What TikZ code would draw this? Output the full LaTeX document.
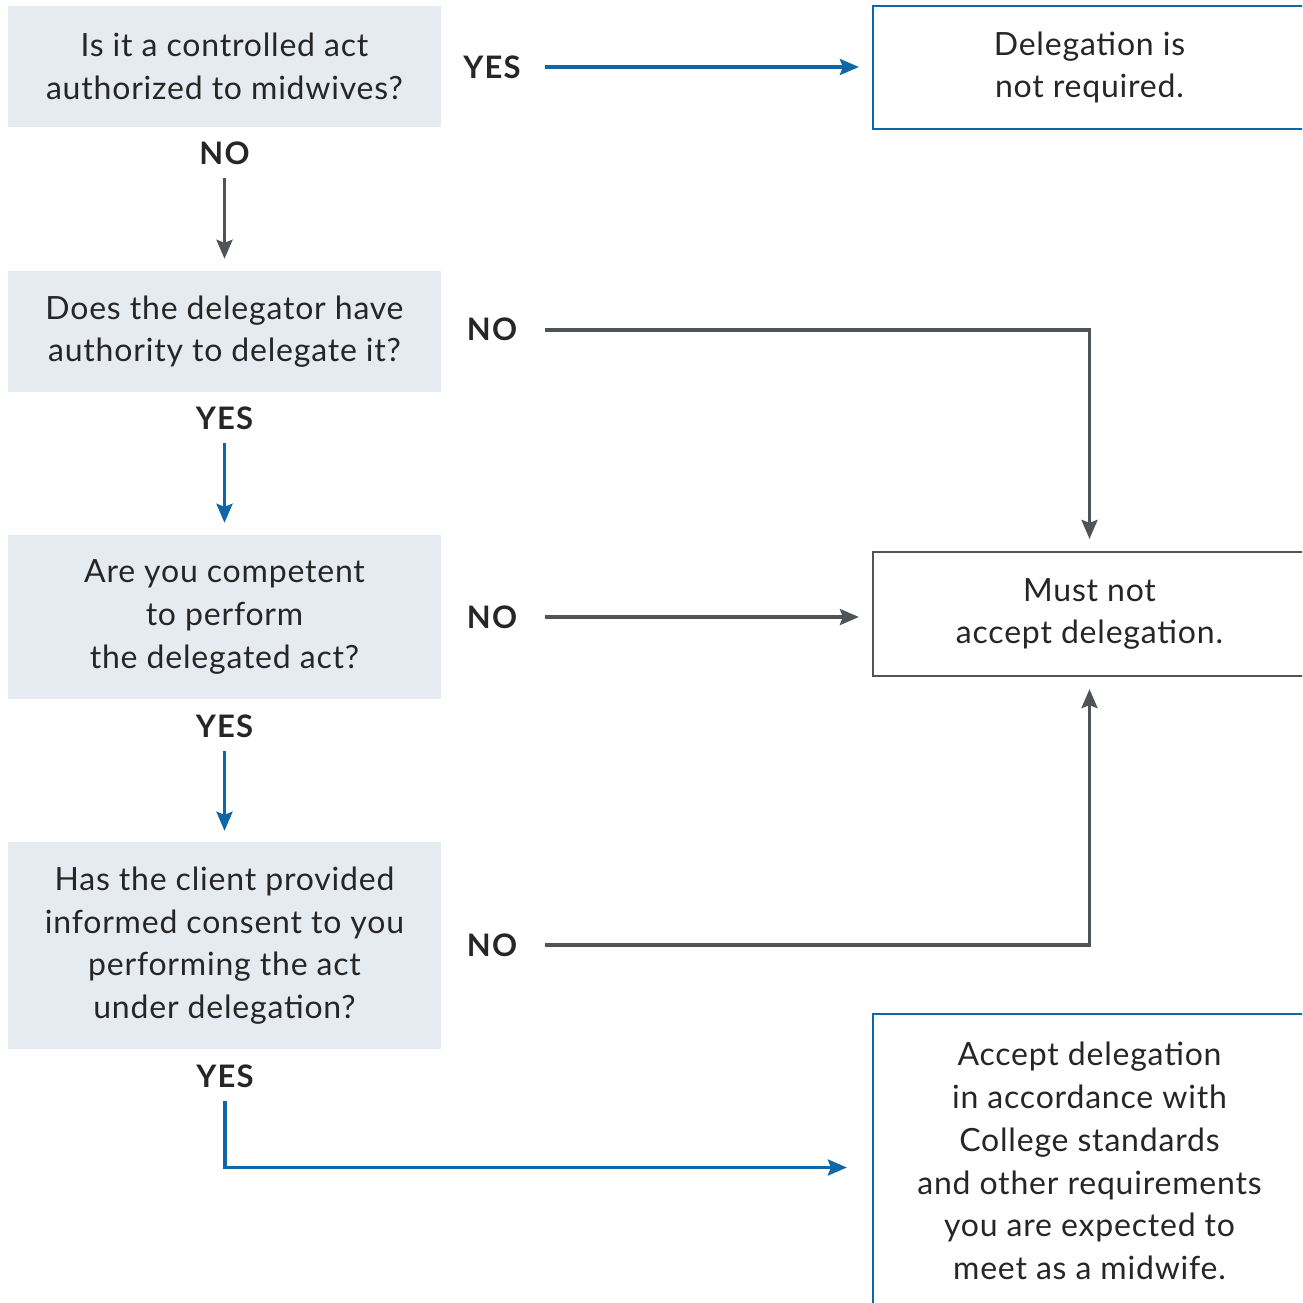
\documentclass[tikz,border=0pt]{standalone}
\usepackage{fontspec}
\setmainfont{Lato}[LetterSpace=2.5]
\newfontfamily\lblfont{Lato}[LetterSpace=4]
\usetikzlibrary{arrows.meta}
\definecolor{qfill}{HTML}{E6EBF2}
\definecolor{qblue}{HTML}{0E67A6}
\definecolor{qgray}{HTML}{4F5459}
\definecolor{qtext}{HTML}{262626}
\begin{document}
\begin{tikzpicture}[x=1pt,y=-1pt,
  qbox/.style={fill=qfill, minimum width=433pt, inner sep=0pt, align=center, text=qtext,
    font=\fontsize{32}{42.7}\selectfont},
  abox/.style={draw=#1, line width=2.2pt, fill=white, minimum width=433pt, inner sep=0pt, align=center, text=qtext,
    font=\fontsize{32}{42.7}\selectfont},
  lblh/.style={minimum width=106pt, inner sep=0pt, text=qtext, font=\lblfont\bfseries\fontsize{31}{32}\selectfont},
  lblv/.style={minimum height=50pt, inner sep=0pt, text=qtext, font=\lblfont\bfseries\fontsize{31}{32}\selectfont},
  arr/.style={-{Stealth[length=19pt,width=16pt,inset=3pt]}, line width=3.2pt},
]
\useasboundingbox (0,0) rectangle (1302,1303);
\clip (0,0) rectangle (1302,1303);

% question boxes
\node[qbox, minimum height=121pt] (q1) at (224.5,66.5) {Is it a controlled act\\authorized to midwives?};
\node[qbox, minimum height=121pt] (q2) at (224.5,331.5) {Does the delegator have\\authority to delegate it?};
\node[qbox, minimum height=164pt] (q3) at (224.5,617) {Are you competent\\to perform\\the delegated act?};
\node[qbox, minimum height=207pt] (q4) at (224.5,945.5) {Has the client provided\\informed consent to you\\performing the act\\under delegation?};

% answer boxes
\node[abox=qblue, minimum height=123pt] (r1) at (1089.5,67.5) {Delegation is\\not required.};
\node[abox=qgray, minimum height=124pt] (r2) at (1089.5,614) {Must not\\accept delegation.};
\node[abox=qblue, minimum height=294pt] (r3) at (1089.5,1161) {Accept delegation\\in accordance with\\College standards\\and other requirements\\you are expected to\\meet as a midwife.};

% labels
\node[lblh] (y1) at (492,67) {YES};
\node[lblv] (n1) at (224.5,153) {NO};
\node[lblh] (n2) at (492,329) {NO};
\node[lblv] (y2) at (224.5,418) {YES};
\node[lblh] (n3) at (492,617) {NO};
\node[lblv] (y3) at (224.5,726) {YES};
\node[lblh] (n4) at (492,945) {NO};
\node[lblv] (y4) at (225,1076) {YES};

% connectors
\draw[arr, qblue, shorten >=13pt] (y1.east) -- (r1.west |- y1.east);
\draw[arr, qgray, shorten >=12pt] (n1.south) -- (q2.north);
\draw[arr, qgray, shorten >=12pt] ([yshift=-1pt]n2.east) -| (r2.north);
\draw[arr, qblue, shorten >=12pt] (y2.south) -- (q3.north);
\draw[arr, qgray, shorten >=13pt] (n3.east) -- (r2.west |- n3.east);
\draw[arr, qblue, shorten >=11pt] (y3.south) -- (q4.north);
\draw[arr, qgray, shorten >=12pt] (n4.east) -| (r2.south);
\draw[arr, qblue, shorten >=25pt] (y4.south) |- ([yshift=-6.5pt]r3.west);
\end{tikzpicture}
\end{document}
